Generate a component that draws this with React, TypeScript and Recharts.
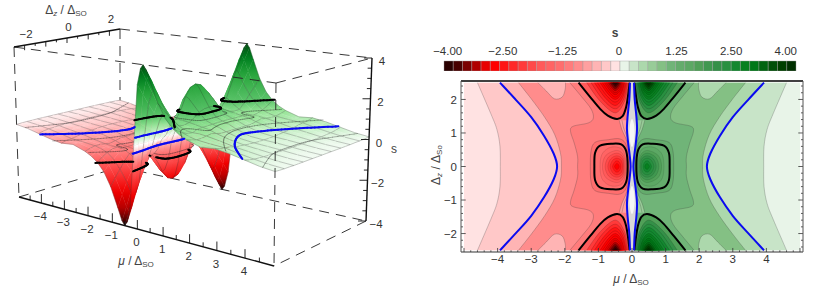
import { Bar, BarChart, Cell, Scatter, ScatterChart, XAxis, YAxis } from "recharts";

type Pt = [number, number];

const FONT = "'Liberation Sans', Arial, sans-serif";
const TEXT = "#333";

// ---- colour bar ----
const redBar = ["#2a0000", "#480000", "#7a0000", "#b00000", "#e80000", "#ff0000", "#ff1414", "#ff2828", "#ff3a3a", "#ff4a4a", "#ff5a5a", "#ff6464", "#ff6e6e", "#ff7c7c", "#ff8c8c", "#ffa0a0", "#ffb4b4", "#ffc8c8", "#ffe2e2"];
const greenBar = ["#e8f4e8", "#c8e4c8", "#acd8ac", "#98cc98", "#84c084", "#70b478", "#64ac6c", "#5ca864", "#50a058", "#409850", "#349048", "#289040", "#148830", "#088020", "#007818", "#006410", "#005008", "#004000", "#003000"];
const barTickPos = [0.4, 6.35, 12.8, 18.9, 25.1, 31, 36.9];
const barTickLabels = ["−4.00", "−2.50", "−1.25", "0", "1.25", "2.50", "4.00"];

// ---- contour lines of the left half (mu < 0), upper half (dz > 0) ----
// the plot is antisymmetric in mu and symmetric in dz, so the other quadrants are reflections
const lineA: Pt[] = [[-4.6, 2.5], [-4.2, 1.57], [-4.02, 1.1], [-3.93, 0.6], [-3.92, 0]];
const lineBlue: Pt[] = [[-3.93, 2.5], [-3.45, 1.98], [-3.0, 1.47], [-2.62, 0.92], [-2.33, 0.38], [-2.23, 0]];
const lineC: Pt[] = [[-3.38, 2.5], [-3.0, 2.02], [-2.6, 1.47], [-2.3, 0.95], [-2.13, 0.4], [-2.1, 0]];
const linePocket: Pt[] = [[-2.8, 2.5], [-2.55, 2.25], [-2.31, 2.02], [-2.08, 2.07], [-1.99, 2.3], [-1.98, 2.5]];
const lineE: Pt[] = [[-1.85, 2.5], [-1.5, 2.08], [-1.22, 1.72], [-1.15, 1.45], [-1.3, 1.3], [-1.75, 1.2], [-1.83, 1.05], [-1.72, 0.7], [-1.62, 0.3], [-1.62, 0]];
const lineCenterBlue: Pt[] = [[-0.06, 2.5], [-0.08, 2.0], [-0.13, 1.5], [-0.15, 1.12], [-0.12, 0.75], [-0.07, 0.35], [-0.04, 0]];
const lineWedge: Pt[] = [[-0.38, 1.38], [-0.3, 1.1], [-0.17, 0.8], [-0.08, 0.4], [-0.04, 0]];
const lineWedge2: Pt[] = [[-0.3, 1.38], [-0.24, 1.12], [-0.14, 0.88]];
const ringOuter: Pt[] = [[-1.24, 0], [-1.22, 0.45], [-1.1, 0.72], [-0.7, 0.8], [-0.35, 0.82], [-0.16, 0.6], [-0.1, 0]];
const ringBlack: Pt[] = [[-1.12, 0], [-1.1, 0.4], [-0.95, 0.62], [-0.6, 0.68], [-0.32, 0.66], [-0.17, 0.45], [-0.13, 0]];
const coreRings: Pt[][] = [
  [[-0.95, 0], [-0.9, 0.35], [-0.7, 0.55], [-0.45, 0.58], [-0.25, 0.45], [-0.17, 0]],
  [[-0.88, 0], [-0.78, 0.33], [-0.45, 0.48], [-0.25, 0.33], [-0.2, 0]],
  [[-0.8, 0], [-0.7, 0.28], [-0.45, 0.4], [-0.27, 0.28], [-0.23, 0]],
  [[-0.72, 0], [-0.63, 0.23], [-0.45, 0.32], [-0.29, 0.23], [-0.25, 0]],
  [[-0.65, 0], [-0.58, 0.18], [-0.45, 0.25], [-0.32, 0.18], [-0.28, 0]],
  [[-0.58, 0], [-0.52, 0.13], [-0.45, 0.17], [-0.37, 0.13], [-0.33, 0]],
  [[-0.52, 0], [-0.48, 0.07], [-0.45, 0.09], [-0.41, 0.07], [-0.38, 0]],
];
const lineBlackTop: Pt[] = [[-1.59, 2.5], [-1.25, 2.08], [-0.95, 1.72], [-0.72, 1.52], [-0.45, 1.42], [-0.28, 1.5], [-0.18, 1.75], [-0.12, 2.1], [-0.07, 2.5]];
const peakArcs: Pt[][] = [
  [[-1.35, 2.5], [-0.95, 1.95], [-0.5, 1.6], [-0.22, 1.95], [-0.1, 2.5]],
  [[-1.22, 2.5], [-0.87, 2.0], [-0.5, 1.72], [-0.25, 2.0], [-0.13, 2.5]],
  [[-1.12, 2.5], [-0.8, 2.05], [-0.5, 1.82], [-0.28, 2.05], [-0.16, 2.5]],
  [[-1.03, 2.5], [-0.76, 2.12], [-0.5, 1.92], [-0.3, 2.12], [-0.19, 2.5]],
  [[-0.95, 2.5], [-0.72, 2.17], [-0.5, 2.0], [-0.32, 2.17], [-0.22, 2.5]],
  [[-0.88, 2.5], [-0.68, 2.22], [-0.5, 2.07], [-0.33, 2.22], [-0.24, 2.5]],
  [[-0.82, 2.5], [-0.65, 2.26], [-0.5, 2.14], [-0.35, 2.26], [-0.27, 2.5]],
  [[-0.76, 2.5], [-0.62, 2.3], [-0.5, 2.2], [-0.37, 2.3], [-0.3, 2.5]],
  [[-0.71, 2.5], [-0.6, 2.34], [-0.5, 2.26], [-0.39, 2.34], [-0.32, 2.5]],
  [[-0.66, 2.5], [-0.57, 2.38], [-0.5, 2.32], [-0.42, 2.38], [-0.35, 2.5]],
  [[-0.62, 2.5], [-0.54, 2.42], [-0.5, 2.38], [-0.44, 2.42], [-0.38, 2.5]],
  [[-0.57, 2.5], [-0.52, 2.46], [-0.5, 2.44], [-0.46, 2.46], [-0.42, 2.5]],
];
const peakArcShades = [10, 11, 12, 12, 13, 13, 14, 14, 15, 16, 17, 18];
const lensCore: Pt[] = [[-0.08, 1.0], [-0.05, 1.3], [0, 1.42], [0.05, 1.3], [0.08, 1.0], [0.05, 0.7], [0, 0.58], [-0.05, 0.7]];

// ---- surface heights for mu >= 0, dz >= 0 (s is odd in mu, even in dz) ----
const muCols = [0, 0.1, 0.25, 0.4, 0.5, 0.6, 0.75, 1, 1.25, 1.5, 1.75, 2, 2.5, 3, 3.5, 4, 4.5, 5];
const dzRows = [0, 0.25, 0.5, 0.75, 1, 1.25, 1.5, 1.75, 2, 2.25, 2.5];
const heightRows = [
  [0, 0.4, 1.55, 2.3, 2.5, 2.4, 2.05, 1.45, 1.02, 0.86, 0.75, 0.6, 0.36, 0.3, 0.26, 0.2, 0.13, 0.09],
  [0, 0.38, 1.5, 2.2, 2.4, 2.3, 1.98, 1.42, 1.0, 0.86, 0.75, 0.6, 0.37, 0.3, 0.26, 0.2, 0.13, 0.09],
  [0, 0.33, 1.3, 1.85, 2.0, 1.95, 1.72, 1.32, 0.98, 0.85, 0.74, 0.6, 0.4, 0.31, 0.26, 0.2, 0.13, 0.09],
  [0, 0.22, 0.95, 1.3, 1.4, 1.38, 1.28, 1.12, 0.94, 0.84, 0.74, 0.6, 0.44, 0.33, 0.26, 0.2, 0.13, 0.09],
  [0, 0.16, 0.62, 0.9, 1.0, 1.02, 1.0, 0.96, 0.9, 0.84, 0.78, 0.66, 0.48, 0.36, 0.28, 0.2, 0.13, 0.09],
  [0, 0.2, 0.6, 0.9, 1.0, 0.98, 0.95, 0.9, 0.84, 0.82, 0.82, 0.72, 0.52, 0.38, 0.3, 0.21, 0.13, 0.09],
  [0, 0.4, 1.0, 1.35, 1.4, 1.32, 1.15, 0.92, 0.76, 0.72, 0.72, 0.68, 0.56, 0.42, 0.32, 0.22, 0.14, 0.09],
  [0, 0.6, 1.45, 1.95, 2.1, 1.95, 1.65, 1.2, 0.9, 0.75, 0.68, 0.64, 0.58, 0.48, 0.35, 0.24, 0.15, 0.1],
  [0, 0.8, 1.95, 2.55, 2.75, 2.55, 2.1, 1.55, 1.12, 0.85, 0.72, 0.64, 0.57, 0.52, 0.38, 0.26, 0.16, 0.1],
  [0, 1.0, 2.45, 3.2, 3.4, 3.2, 2.65, 1.88, 1.32, 1.0, 0.82, 0.7, 0.56, 0.55, 0.42, 0.3, 0.18, 0.11],
  [0, 1.2, 3.0, 3.8, 4.0, 3.8, 3.2, 2.25, 1.6, 1.2, 0.95, 0.78, 0.56, 0.62, 0.52, 0.37, 0.22, 0.13],
];
const meshMu = [1, 2, 3, 4, 0.5, 1.5];
const meshDz = [0, 0.5, 1, 1.5, 2, 2.5];
const surfaceStopS = [0, 0.15, 0.4, 0.8, 1.25, 2.5, 3.3, 4];
const surfaceRed = [[255, 255, 255], [255, 228, 228], [255, 176, 176], [255, 128, 128], [255, 90, 90], [240, 0, 0], [176, 0, 0], [32, 0, 0]];
const surfaceGreen = [[255, 255, 255], [232, 248, 232], [200, 240, 200], [150, 228, 150], [90, 195, 105], [40, 165, 60], [0, 128, 32], [0, 80, 16]];

// ---- tick labels ----
const muTicks = [-4, -3, -2, -1, 0, 1, 2, 3, 4];
const dzTicks = [-2, 0, 2];
const sTicks = [4, 2, 0, -2, -4];
const axisDz = [-2, -1, 0, 1, 2];

// ---- the box of the 3d plot on the page: [mu, dz, s] corners ----
const boxCorners: Record<string, Pt> = {
  "-5,-2.5,4": [14, 47], "-5,2.5,4": [120, 29], "5,-2.5,4": [276, 83], "5,2.5,4": [372, 58],
  "-5,-2.5,-4": [19, 197], "-5,2.5,-4": [120, 167], "5,-2.5,-4": [274, 266], "5,2.5,-4": [366, 221],
};

const fmt = (v: number) => String(v).replace("-", "−");

function project(mu: number, dz: number, s: number): Pt {
  const t = (mu + 5) / 10;
  const u = (dz + 2.5) / 5;
  const v = (s + 4) / 8;
  // foreshortening along mu, a little stronger at the top of the box
  const a = 0.866 - 0.073 * v * (1 - u) - 0.036 * v * u;
  const tp = (t * a) / (1 - (1 - a) * t);
  const c = (p: number, b: number, d: number) => boxCorners[`${p},${b},${d}`];
  const mix = (k: 0 | 1) => {
    const p = c(-5, -2.5, -4)[k] * (1 - u) + c(-5, 2.5, -4)[k] * u;
    const b = c(5, -2.5, -4)[k] * (1 - u) + c(5, 2.5, -4)[k] * u;
    const d = c(-5, -2.5, 4)[k] * (1 - u) + c(-5, 2.5, 4)[k] * u;
    const e = c(5, -2.5, 4)[k] * (1 - u) + c(5, 2.5, 4)[k] * u;
    return (p * (1 - tp) + b * tp) * (1 - v) + (d * (1 - tp) + e * tp) * v;
  };
  return [mix(0), mix(1)];
}

const spanZ = (upper: Pt[]): Pt[] => [...upper, ...upper.slice(0, -1).reverse().map(([a, b]): Pt => [a, -b])];
const ringZ = (upper: Pt[]): Pt[] => [...upper, ...upper.slice(1, -1).reverse().map(([a, b]): Pt => [a, -b])];
const flipZ = (pts: Pt[]): Pt[] => pts.map(([a, b]): Pt => [a, -b]);
const flipMu = (pts: Pt[]): Pt[] => pts.map(([a, b]): Pt => [-a, b]);

function catmull(p: { x: number; y: number }[], closed: boolean) {
  const n = p.length;
  const at = (i: number) => (closed ? p[(i + n) % n] : p[Math.max(0, Math.min(n - 1, i))]);
  let d = `M${p[0].x},${p[0].y}`;
  const last = closed ? n : n - 1;
  for (let i = 0; i < last; i++) {
    const a = at(i - 1), b = at(i), c = at(i + 1), e = at(i + 2);
    d += `C${b.x + (c.x - a.x) / 6},${b.y + (c.y - a.y) / 6} ${c.x - (e.x - b.x) / 6},${c.y - (e.y - b.y) / 6} ${c.x},${c.y}`;
  }
  return d;
}

// the same curve as catmull, as points in data space, for the lines drawn on the surface
function catmullPts(p: Pt[], closed: boolean): Pt[] {
  const n = p.length;
  const at = (i: number) => (closed ? p[(i + n) % n] : p[Math.max(0, Math.min(n - 1, i))]);
  const out: Pt[] = [];
  const last = closed ? n : n - 1;
  for (let i = 0; i < last; i++) {
    const a = at(i - 1), b = at(i), c = at(i + 1), e = at(i + 2);
    for (let k = 0; k < 6; k++) {
      const t = k / 6;
      const f = (j: 0 | 1) =>
        0.5 * (2 * b[j] + (c[j] - a[j]) * t + (2 * a[j] - 5 * b[j] + 4 * c[j] - e[j]) * t * t + (3 * b[j] - a[j] - 3 * c[j] + e[j]) * t * t * t);
      out.push([f(0), f(1)]);
    }
  }
  out.push(closed ? out[0] : p[n - 1]);
  return out;
}

const noDot = () => null;

// filled region bounded by a smooth curve, closed through straight tail points
function region(key: string, curve: Pt[], tail: Pt[], o: { fill?: string; stroke?: string; width?: number; closed?: boolean; opacity?: number }) {
  const data = [...curve, ...tail].map(([x, y]) => ({ x, y }));
  const n = curve.length;
  const draw = (p: any) => {
    const pts = p.points;
    const d = catmull(pts.slice(0, n), !!o.closed);
    const t = pts.slice(n).map((q: any) => `L${q.x},${q.y}`).join("");
    return (
      <g>
        {o.fill && <path d={d + t + "Z"} fill={o.fill} stroke="none" />}
        {o.stroke && <path d={d} fill="none" stroke={o.stroke} strokeWidth={o.width ?? 0.5} strokeOpacity={o.opacity ?? 1} strokeLinejoin="round" />}
      </g>
    );
  };
  return <Scatter key={key} data={data} line={draw} shape={noDot} isAnimationActive={false} />;
}

function strokeLine(key: string, pts: Pt[], stroke: string, width: number, dash?: string) {
  const data = pts.map(([x, y]) => ({ x, y }));
  return (
    <Scatter key={key} data={data} line={{ stroke, strokeWidth: width, strokeDasharray: dash, fill: "none" }} lineJointType="linear" shape={noDot} isAnimationActive={false} />
  );
}

// pairs of points, drawn as separate short strokes
function tickMarks(key: string, pairs: Pt[][], stroke: string, width: number) {
  const data = pairs.flat().map(([x, y]) => ({ x, y }));
  const draw = (p: any) => {
    let d = "";
    for (let i = 0; i + 1 < p.points.length; i += 2) d += `M${p.points[i].x},${p.points[i].y}L${p.points[i + 1].x},${p.points[i + 1].y}`;
    return <path d={d} stroke={stroke} strokeWidth={width} fill="none" />;
  };
  return <Scatter key={key} data={data} line={draw} shape={noDot} isAnimationActive={false} />;
}

function textMarks(key: string, items: { x: number; y: number; label: string }[]) {
  const shape = (p: any) => (
    <text x={p.cx} y={p.cy} textAnchor="middle" dominantBaseline="central" fontFamily={FONT} fontSize={11.5} fill={TEXT}>
      {p.payload.label}
    </text>
  );
  return <Scatter key={key} data={items} shape={shape} isAnimationActive={false} />;
}

// ---- right panel: one half of the contour plot ----
function contourHalf(side: "red" | "green") {
  const flip = side === "green";
  const m = (pts: Pt[]) => (flip ? flipMu(pts) : pts);
  const shade = (k: number) => (flip ? greenBar[k] : redBar[18 - k]);
  const tail: Pt[] = [[0, -2.5], [0, 2.5]];
  const gray = "#333";
  const items = [];
  const base: Pt[] = flip ? [[5, 2.5], [5, -2.5], [0, -2.5], [0, 2.5]] : [[-5, 2.5], [-5, -2.5], [0, -2.5], [0, 2.5]];
  items.push(region(`${side}-base`, base.slice(0, 2), base.slice(2), { fill: shade(0) }));
  items.push(region(`${side}-a`, m(spanZ(lineA)), tail, { fill: shade(1), stroke: gray, opacity: 0.5 }));
  items.push(region(`${side}-b`, m(spanZ(lineBlue)), tail, { fill: shade(2) }));
  items.push(region(`${side}-c`, m(spanZ(lineC)), tail, { fill: shade(4), stroke: gray, opacity: 0.5 }));
  items.push(region(`${side}-p1`, m(linePocket), [], { fill: shade(2), stroke: gray, opacity: 0.5 }));
  items.push(region(`${side}-p2`, m(flipZ(linePocket)), [], { fill: shade(2), stroke: gray, opacity: 0.5 }));
  items.push(region(`${side}-e`, m(spanZ(lineE)), tail, { fill: shade(5), stroke: gray, opacity: 0.5 }));
  items.push(region(`${side}-w`, m(spanZ(lineWedge)), [[0, -1.38], [0, 1.38]], { fill: shade(3), stroke: gray, opacity: 0.5 }));
  items.push(region(`${side}-w2`, m(lineWedge2), [], { stroke: gray, opacity: 0.5 }));
  items.push(region(`${side}-w3`, m(flipZ(lineWedge2)), [], { stroke: gray, opacity: 0.5 }));
  items.push(region(`${side}-g`, m(ringZ(ringOuter)), [], { fill: shade(6), stroke: gray, opacity: 0.5, closed: true }));
  items.push(region(`${side}-bk`, m(ringZ(ringBlack)), [], { fill: shade(6), closed: true }));
  coreRings.forEach((r, i) => items.push(region(`${side}-r${i}`, m(ringZ(r)), [], { fill: shade(7 + i), stroke: "#000", opacity: 0.25, width: 0.4, closed: true })));
  items.push(region(`${side}-bk2`, m(ringZ(ringBlack)), [], { stroke: "#000", width: 2, closed: true }));
  [false, true].forEach((low) => {
    const f = (pts: Pt[]) => m(low ? flipZ(pts) : pts);
    const id = `${side}-${low ? "low" : "up"}`;
    items.push(region(`${id}-pk`, f(lineBlackTop), [], { fill: shade(8) }));
    peakArcs.forEach((a, i) => items.push(region(`${id}-a${i}`, f(a), [], { fill: shade(peakArcShades[i]), stroke: "#000", opacity: 0.35, width: 0.45 })));
    items.push(region(`${id}-bk`, f(lineBlackTop), [], { stroke: "#000", width: 2 }));
  });
  return items;
}

const lensOutline: Pt[] = [...spanZ(lineCenterBlue), ...flipMu(spanZ(lineCenterBlue)).reverse()];

// frame ticks in data units, inward on all four sides
const frameTicks: Pt[][] = [];
for (let i = -25; i <= 25; i++) {
  const v = i / 5;
  const len = i % 5 === 0 ? 0.12 : 0.05;
  frameTicks.push([[v, -2.55], [v, -2.55 + len]]);
}
for (let i = -12; i <= 12; i++) {
  const v = i / 5;
  const len = i % 5 === 0 ? 0.14 : 0.06;
  frameTicks.push([[-5.09, v], [-5.09 + len, v]]);
  frameTicks.push([[5.09, v], [5.09 - len, v]]);
}

function ContourChart() {
  return (
    <ScatterChart width={400} height={224} margin={{ top: 11, right: 17, bottom: 0, left: 0 }} style={{ position: "absolute", left: 420, top: 70 }}>
      <XAxis
        type="number"
        dataKey="x"
        domain={[-5.09, 5.09]}
        ticks={muTicks}
        interval={0}
        tickFormatter={fmt}
        axisLine={false}
        tickLine={false}
        tickSize={0}
        height={42}
        tick={{ fontFamily: FONT, fontSize: 11.5, fill: TEXT }}
        tickMargin={3}
      />
      <YAxis
        type="number"
        dataKey="y"
        domain={[-2.55, 2.55]}
        ticks={axisDz}
        interval={0}
        tickFormatter={fmt}
        axisLine={false}
        tickLine={false}
        tickSize={0}
        width={41}
        tick={{ fontFamily: FONT, fontSize: 11.5, fill: TEXT }}
        tickMargin={4}
      />
      {contourHalf("red")}
      {contourHalf("green")}
      {region("lens", lensOutline, [], { fill: "#d8d8d8", closed: true })}
      {region("lens-up", lensCore, [], { fill: "#f6f6f6", closed: true })}
      {region("lens-low", flipZ(lensCore), [], { fill: "#f6f6f6", closed: true })}
      {region("blue-cl", spanZ(lineCenterBlue), [], { stroke: "#0a0af0", width: 2 })}
      {region("blue-cr", flipMu(spanZ(lineCenterBlue)), [], { stroke: "#0a0af0", width: 2 })}
      {region("blue-l", spanZ(lineBlue), [], { stroke: "#0a0af0", width: 2 })}
      {region("blue-r", flipMu(spanZ(lineBlue)), [], { stroke: "#0a0af0", width: 2 })}
      {tickMarks("frame-ticks", frameTicks, "#333", 0.8)}
      {strokeLine("f-top", [[-5.09, 2.55], [5.09, 2.55]], "#000", 1.5)}
      {strokeLine("f-bot", [[-5.09, -2.55], [5.09, -2.55]], "#333", 1.2)}
      {strokeLine("f-left", [[-5.09, -2.55], [-5.09, 2.55]], "#555", 1)}
      {strokeLine("f-right", [[5.09, -2.55], [5.09, 2.55]], "#555", 1)}
    </ScatterChart>
  );
}

function ColorBar() {
  const cells = [...redBar, ...greenBar];
  const data = cells.map((_, i) => ({ pos: i + 0.5, v: 1 }));
  return (
    <BarChart width={392} height={31} data={data} margin={{ top: 0, right: 20, bottom: 0, left: 20 }} style={{ position: "absolute", left: 424, top: 40 }}>
      <XAxis
        type="number"
        dataKey="pos"
        orientation="top"
        domain={[0, 38]}
        ticks={barTickPos}
        interval={0}
        tickFormatter={(_: number, i: number) => barTickLabels[i]}
        height={21}
        axisLine={false}
        tickLine={false}
        tickSize={0}
        tick={{ fontFamily: FONT, fontSize: 11.5, fill: TEXT }}
        tickMargin={6}
      />
      <YAxis hide domain={[0, 1]} />
      <Bar dataKey="v" barSize={9.26} isAnimationActive={false} stroke="#999" strokeWidth={0.4}>
        {cells.map((c, i) => (
          <Cell key={i} fill={c} />
        ))}
      </Bar>
    </BarChart>
  );
}

// ---- left panel: surface grid ----
const muGrid = [...muCols.slice(1).reverse().map((v) => -v), ...muCols];
const dzGrid = [...dzRows.slice(1).reverse().map((v) => -v), ...dzRows];
const heightAt = (i: number, j: number) => {
  const mu = muGrid[i];
  const col = muCols.indexOf(Math.abs(mu));
  const row = dzRows.indexOf(Math.abs(dzGrid[j]));
  return (mu < 0 ? -1 : 1) * heightRows[row][col];
};
const nC = muGrid.length;
const nR = dzGrid.length;

function surfaceColor(s: number) {
  const table = s < 0 ? surfaceRed : surfaceGreen;
  const a = Math.min(4, Math.abs(s));
  let k = 0;
  while (k < surfaceStopS.length - 2 && a > surfaceStopS[k + 1]) k++;
  const f = (a - surfaceStopS[k]) / (surfaceStopS[k + 1] - surfaceStopS[k]);
  const c = table[k].map((v, q) => Math.round(v + (table[k + 1][q] - v) * f));
  return `rgb(${c[0]},${c[1]},${c[2]})`;
}

type Overlay = { pts: Pt[]; s: number; color: string; width: number; opacity: number };
const overlays: Overlay[] = [];
const addBoth = (pts: Pt[], level: number, color: string, width: number, opacity: number) => {
  overlays.push({ pts: pts, s: -level, color, width, opacity });
  overlays.push({ pts: flipMu(pts), s: level, color, width, opacity });
};
addBoth(catmullPts(spanZ(lineA), false), 0.2, "#222", 0.55, 0.6);
addBoth(catmullPts(spanZ(lineC), false), 0.6, "#222", 0.55, 0.6);
addBoth(catmullPts(spanZ(lineE), false), 0.8, "#222", 0.55, 0.6);
addBoth(catmullPts(ringZ(ringOuter), true), 1.0, "#222", 0.55, 0.6);
addBoth(catmullPts(spanZ(lineBlue), false), 0.4, "#0a0af0", 2, 1);
addBoth(catmullPts(spanZ(lineCenterBlue), false), 0.4, "#0a0af0", 2, 1);
addBoth(catmullPts(ringZ(ringBlack), true), 1.25, "#000", 2, 1);
addBoth(catmullPts(lineBlackTop, false), 1.25, "#000", 2, 1);
addBoth(catmullPts(flipZ(lineBlackTop), false), 1.25, "#000", 2, 1);

const surfacePoints: { x: number; y: number }[] = [];
for (let i = 0; i < nC; i++) {
  for (let j = 0; j < nR; j++) {
    const [x, y] = project(muGrid[i], dzGrid[j], heightAt(i, j));
    surfacePoints.push({ x, y });
  }
}
const cellOf = (grid: number[], v: number) => {
  for (let k = 0; k < grid.length - 1; k++) if (v <= grid[k + 1]) return k;
  return grid.length - 2;
};
const overlaySegs: { a: number; b: number; ci: number; cj: number; o: Overlay }[] = [];
overlays.forEach((o) => {
  o.pts.forEach(([mu, dz], k) => {
    const [x, y] = project(mu, dz, o.s);
    surfacePoints.push({ x, y });
    if (k === 0) return;
    const idx = surfacePoints.length - 1;
    const [pm, pz] = o.pts[k - 1];
    overlaySegs.push({ a: idx - 1, b: idx, ci: cellOf(muGrid, (mu + pm) / 2), cj: cellOf(dzGrid, (dz + pz) / 2), o });
  });
});

const inQuad = (q: { x: number; y: number }[], x: number, y: number) => {
  let inside = false;
  for (let a = 0, b = q.length - 1; a < q.length; b = a++) {
    if (q[a].y > y !== q[b].y > y && x < ((q[b].x - q[a].x) * (y - q[a].y)) / (q[b].y - q[a].y) + q[a].x) inside = !inside;
  }
  return inside;
};

function SurfaceLine(p: any) {
  const pts = p.points;
  const V = (i: number, j: number) => pts[i * nR + j];
  const out = [];
  const edge = (k: string, a: any, b: any) => <path key={k} d={`M${a.x},${a.y}L${b.x},${b.y}`} stroke="#222" strokeOpacity={0.5} strokeWidth={0.5} />;
  // back to front: far corner is mu = -5, dz = 2.5
  for (let i = 0; i < nC - 1; i++) {
    for (let j = nR - 2; j >= 0; j--) {
      const corners: [number, number][] = [[i, j], [i + 1, j], [i + 1, j + 1], [i, j + 1]];
      const hs = corners.map(([a, b]) => heightAt(a, b));
      const lo = hs.indexOf(Math.min(...hs));
      const hi = hs.indexOf(Math.max(...hs));
      const pLo = V(...corners[lo]);
      const pHi = V(...corners[hi]);
      const id = `q${i}_${j}`;
      const d = corners.map(([a, b], k) => `${k ? "L" : "M"}${V(a, b).x},${V(a, b).y}`).join("") + "Z";
      const stops = [0, 0.25, 0.5, 0.75, 1];
      out.push(
        <g key={id}>
          <defs>
            <linearGradient id={id} gradientUnits="userSpaceOnUse" x1={pLo.x} y1={pLo.y} x2={pHi.x + 0.01} y2={pHi.y + 0.01}>
              {stops.map((f) => (
                <stop key={f} offset={f} stopColor={surfaceColor(hs[lo] + (hs[hi] - hs[lo]) * f)} />
              ))}
            </linearGradient>
          </defs>
          <path d={d} fill={`url(#${id})`} stroke={`url(#${id})`} strokeWidth={0.4} />
          {(meshMu.includes(Math.abs(muGrid[i])) || i === 0) && edge("m", V(i, j), V(i, j + 1))}
          {meshDz.includes(Math.abs(dzGrid[j + 1])) && edge("z", V(i, j + 1), V(i + 1, j + 1))}
          {i === nC - 2 && edge("e1", V(i + 1, j), V(i + 1, j + 1))}
          {j === 0 && edge("e2", V(i, j), V(i + 1, j))}
        </g>
      );
    }
  }
  // contour lines go on top, minus what a nearer part of the surface covers
  const visible = overlaySegs.filter((s) => {
    const mx = (pts[s.a].x + pts[s.b].x) / 2;
    const my = (pts[s.a].y + pts[s.b].y) / 2;
    for (let i = s.ci; i < nC - 1; i++) {
      for (let j = 0; j < nR - 1; j++) {
        if (i === s.ci && j >= s.cj) continue;
        if (Math.abs(i - s.ci) <= 1 && Math.abs(j - s.cj) <= 1) continue;
        if (inQuad([V(i, j), V(i + 1, j), V(i + 1, j + 1), V(i, j + 1)], mx, my)) return false;
      }
    }
    return true;
  });
  return (
    <g>
      {out}
      {visible.map((s, k) => (
        <path key={k} d={`M${pts[s.a].x},${pts[s.a].y}L${pts[s.b].x},${pts[s.b].y}`} stroke={s.o.color} strokeWidth={s.o.width} strokeOpacity={s.o.opacity} strokeLinecap="round" />
      ))}
    </g>
  );
}

const C = (mu: number, dz: number, s: number) => boxCorners[`${mu},${dz},${s}`];

const muAxisTicks: Pt[][] = [];
for (let i = -9; i <= 9; i++) {
  const [x, y] = project(i / 2, -2.5, -4);
  muAxisTicks.push([[x, y], [x, y - (i % 2 === 0 ? 9 : 4.5)]]);
}
const sAxisTicks: Pt[][] = [];
for (let i = -8; i <= 8; i++) {
  const [x, y] = project(5, 2.5, i / 2);
  sAxisTicks.push([[x, y], [x - (i % 4 === 0 ? 8 : 4), y]]);
}
const dzAxisTicks: Pt[][] = [];
for (let i = -4; i <= 4; i++) {
  const [x, y] = project(-5, i / 2, 4);
  dzAxisTicks.push([[x, y], [x, y + (i % 2 === 0 ? 5 : 2.5)]]);
}

function SurfaceChart() {
  const dash = "10 7";
  return (
    <ScatterChart width={400} height={294} margin={{ top: 0, right: 0, bottom: 0, left: 0 }} style={{ position: "absolute", left: 0, top: 0 }}>
      <XAxis hide type="number" dataKey="x" domain={[0, 400]} />
      <YAxis hide type="number" dataKey="y" domain={[0, 294]} reversed />
      {strokeLine("b1", [C(-5, 2.5, 4), C(5, 2.5, 4)], "#222", 0.9, dash)}
      {strokeLine("b2", [C(-5, 2.5, 4), C(-5, 2.5, -4)], "#222", 0.9, dash)}
      {strokeLine("b3", [C(-5, -2.5, -4), C(-5, 2.5, -4)], "#222", 0.9, dash)}
      {strokeLine("b4", [C(-5, 2.5, -4), C(5, 2.5, -4)], "#222", 0.9, dash)}
      {strokeLine("b5", [C(-5, -2.5, 4), C(-5, -2.5, -4)], "#222", 0.9, dash)}
      {strokeLine("b6", [C(5, 2.5, -4), C(5, -2.5, -4)], "#222", 0.9, dash)}
      <Scatter data={surfacePoints} line={SurfaceLine} shape={noDot} isAnimationActive={false} />
      {strokeLine("f1", [C(-5, -2.5, 4), C(5, -2.5, 4)], "#222", 0.9, dash)}
      {strokeLine("f2", [C(5, -2.5, 4), C(5, 2.5, 4)], "#222", 0.9, dash)}
      {strokeLine("f3", [C(5, -2.5, 4), C(5, -2.5, -4)], "#222", 0.9, dash)}
      {strokeLine("a1", [C(-5, -2.5, 4), C(-5, 2.5, 4)], "#111", 1.4)}
      {strokeLine("a2", [C(-5, -2.5, -4), C(5, -2.5, -4)], "#111", 1.4)}
      {strokeLine("a3", [C(5, 2.5, -4), C(5, 2.5, 4)], "#111", 1.4)}
      {tickMarks("t1", muAxisTicks, "#111", 0.9)}
      {tickMarks("t2", sAxisTicks, "#111", 0.9)}
      {tickMarks("t3", dzAxisTicks, "#111", 0.9)}
      {textMarks(
        "mu-labels",
        muTicks.map((v) => {
          const [x, y] = project(v, -2.5, -4);
          return { x: x - 1, y: y + 13, label: fmt(v) };
        })
      )}
      {textMarks(
        "dz-labels",
        dzTicks.map((v) => {
          const [x, y] = project(-5, v, 4);
          return { x: x + 1.5, y: y - 11.5, label: fmt(v) };
        })
      )}
      {textMarks(
        "s-labels",
        sTicks.map((v) => {
          const [x, y] = project(5, 2.5, v);
          return { x: x + 10, y: y + 3, label: fmt(v) };
        })
      )}
    </ScatterChart>
  );
}

function Caption({ x, y, rotate, bold, children }: any) {
  return (
    <div
      style={{
        position: "absolute",
        left: x,
        top: y,
        transform: `translate(-50%,-50%) rotate(${rotate ?? 0}deg)`,
        fontFamily: FONT,
        fontSize: 12,
        fontWeight: bold ? 700 : 400,
        color: "#444",
        whiteSpace: "nowrap",
        lineHeight: 1,
      }}
    >
      {children}
    </div>
  );
}

const subStyle = { fontSize: 8, verticalAlign: "-2px", lineHeight: 0 } as const;

export default function App() {
  return (
    <div style={{ position: "absolute", left: 0, top: 0, width: 822, height: 294, background: "#fff", overflow: "hidden" }}>
      <SurfaceChart />
      <ColorBar />
      <ContourChart />
      <Caption x={66} y={10}>
        Δ<i style={subStyle}>z</i> / Δ<span style={subStyle}>SO</span>
      </Caption>
      <Caption x={136} y={261}>
        <i>μ</i> / Δ<span style={subStyle}>SO</span>
      </Caption>
      <Caption x={394} y={149}>s</Caption>
      <Caption x={615} y={33} bold>s</Caption>
      <Caption x={631} y={279}>
        <i>μ</i> / Δ<span style={subStyle}>SO</span>
      </Caption>
      <Caption x={436} y={165} rotate={-90}>
        Δ<i style={subStyle}>z</i> / Δ<span style={subStyle}>So</span>
      </Caption>
    </div>
  );
}
